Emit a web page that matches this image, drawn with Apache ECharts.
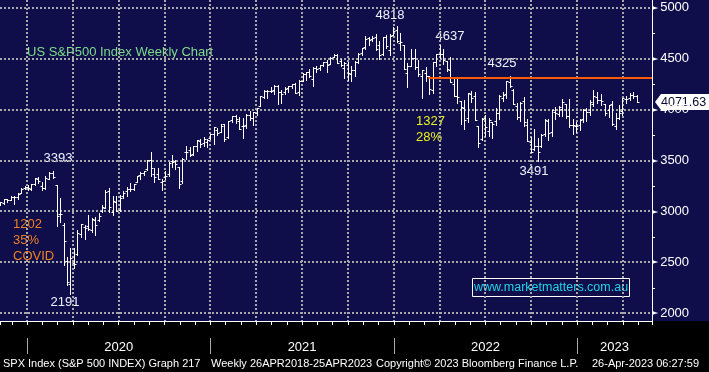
<!DOCTYPE html>
<html><head><meta charset="utf-8">
<script src="https://cdn.jsdelivr.net/npm/echarts@6/dist/echarts.min.js"></script>
<style>
html,body{margin:0;padding:0;background:#000;}
#c{width:709px;height:372px;background:linear-gradient(#100e4a 0,#100e4a 321px,#000 321px,#000 100%);}
</style></head><body><div id="c"></div>
<script>
// Weekly bars (week-ending Friday), first week ending 2019-11-08
const firstWeekEnding = '2019-11-08';
const opens = [
  3078,3081,3118,3117,3144,3141,3183,3226,3240,
  3218,3271,3321,3248,3235,3319,3380,3257,2974,2863,2509,2290,2498,2578,2782,2845,2855,2815,2915,2913,3005,3038,3199,2993,3094,3018,3155,3205,3224,3219,3289,3356,3380,3419,3509,3371,3364,3285,3334,3367,3500,3493,3441,3296,3583,3600,3566,3641,3694,3675,3684,3723,
  3764,3803,3781,3855,3732,3893,3939,3886,3842,3844,3942,3916,3969,4034,4124,4180,4185,4192,4228,4170,4170,4216,4229,4248,4174,4285,4344,4372,4296,4409,4407,4437,4462,4450,4514,4535,4474,4403,4442,4348,4385,4464,4553,4610,4701,4689,4712,4629,4548,4711,4588,4733,
  4778,4655,4632,4357,4432,4505,4413,4333,4354,4328,4188,4462,4541,4547,4474,4385,4255,4130,4081,4013,3920,4151,4134,3838,3715,3920,3792,3880,3883,3965,4113,4155,4269,4195,4034,3930,4084,3849,3682,3609,3643,3638,3762,3883,3780,3977,3956,4005,4053,3939,3853,3843,
  3853,3911,3999,3978,4055,4120,4096,4059,3992,4056,3834,3917,3987,4102,4110,4139,4134
];
const highs = [
  3097,3120,3127,3154,3150,3182,3226,3248,3259,
  3268,3330,3338,3286,3347,3385,3393,3259,3136,2882,2553,2637,2641,2818,2880,2869,2965,2935,2945,2980,3068,3212,3233,3155,3155,3165,3198,3238,3280,3272,3352,3387,3399,3509,3588,3425,3428,3320,3393,3486,3550,3502,3441,3521,3646,3629,3645,3699,3712,3726,3711,3760,
  3827,3823,3860,3860,3889,3937,3950,3929,3915,3960,3983,3978,4020,4129,4191,4195,4218,4238,4238,4190,4219,4234,4249,4261,4286,4356,4372,4394,4415,4429,4440,4469,4482,4513,4546,4549,4492,4465,4466,4429,4475,4559,4608,4718,4714,4718,4744,4672,4713,4731,4741,4808,
  4818,4749,4632,4454,4595,4590,4489,4385,4416,4328,4465,4546,4637,4594,4474,4513,4309,4307,4082,4090,4160,4178,4168,3838,3913,3946,3919,3880,4012,4140,4168,4280,4325,4203,4062,4076,4119,3907,3733,3807,3718,3762,3905,3911,4000,4028,4034,4101,4053,4101,3906,3878,
  3906,4004,4016,4095,4195,4176,4156,4059,4049,4079,3964,4040,4110,4133,4164,4170,4138
];
const lows = [
  3066,3075,3090,3113,3070,3123,3183,3223,3212,
  3215,3264,3281,3214,3225,3315,3328,2855,2900,2479,2280,2191,2447,2577,2749,2727,2816,2798,2766,2906,2999,3038,2999,2966,3000,3001,3128,3152,3200,3210,3285,3323,3353,3404,3349,3293,3317,3209,3323,3344,3441,3419,3234,3280,3511,3544,3553,3594,3633,3647,3636,3707,
  3662,3749,3781,3694,3725,3874,3865,3805,3723,3819,3896,3853,3948,4034,4118,4118,4169,4156,4057,4062,4156,4168,4208,4164,4144,4279,4290,4321,4233,4371,4385,4425,4367,4450,4513,4457,4427,4306,4289,4278,4329,4459,4537,4596,4630,4672,4585,4495,4533,4600,4531,4733,
  4662,4582,4395,4223,4431,4401,4327,4115,4284,4157,4162,4424,4507,4450,4381,4267,4129,4063,3859,3811,3875,4074,3901,3637,3704,3739,3742,3722,3846,3910,4080,4112,4218,4057,3907,3886,3838,3693,3584,3604,3491,3632,3740,3698,3743,3906,3940,3938,3918,3828,3764,3784,
  3795,3877,3885,3949,4037,4061,4048,3943,3928,3846,3809,3906,3949,4068,4098,4114,4071
];
const closes = [
  3093,3120,3110,3141,3146,3169,3221,3240,3235,
  3265,3330,3295,3226,3328,3380,3338,2954,2972,2711,2305,2541,2489,2790,2875,2837,2831,2930,2864,2955,3044,3194,3041,3098,3009,3130,3185,3225,3216,3271,3351,3373,3397,3508,3427,3341,3319,3298,3348,3477,3484,3465,3270,3510,3585,3558,3638,3699,3663,3709,3703,3756,
  3825,3768,3841,3714,3887,3934,3907,3811,3842,3943,3913,3975,4020,4129,4185,4180,4181,4233,4174,4156,4204,4230,4247,4166,4281,4352,4370,4327,4412,4395,4437,4468,4442,4509,4535,4459,4433,4455,4357,4391,4471,4545,4605,4697,4683,4698,4595,4538,4712,4620,4726,4766,
  4677,4663,4398,4432,4501,4419,4349,4385,4329,4204,4463,4543,4546,4488,4393,4272,4132,4123,4024,3901,4158,4109,3901,3675,3912,3825,3899,3863,3962,4130,4145,4280,4228,4058,3924,4067,3873,3693,3586,3640,3583,3752,3901,3771,3993,3965,4026,4072,3934,3852,3845,3840,
  3895,3999,3973,4071,4136,4090,4079,3970,4046,3862,3917,3971,4109,4105,4138,4133,4071.63
];
const years = ['2020','2021','2022','2023'];
const priceTicks = [2000,2500,3000,3500,4000,4500,5000];
const quarterStarts = ['2020-01-01','2020-04-01','2020-07-01','2020-10-01','2021-01-01','2021-04-01','2021-07-01','2021-10-01',
                       '2022-01-01','2022-04-01','2022-07-01','2022-10-01','2023-01-01','2023-04-01'];
const resistanceLevel = 4310;
const resistanceStart = '2022-03-09';
const lastPrice = 4071.63;
const annotations = [
  {text:'3393', x:58, y:158, color:'#eef3ff'},
  {text:'2191', x:65, y:302, color:'#eef3ff'},
  {text:'4818', x:390, y:15, color:'#eef3ff'},
  {text:'4637', x:450, y:36, color:'#eef3ff'},
  {text:'4325', x:502, y:63, color:'#eef3ff'},
  {text:'3491', x:534, y:171, color:'#eef3ff'}
];
const footer = [
  {text:'SPX Index (S&P 500 INDEX) Graph 217', x:3},
  {text:'Weekly 26APR2018-25APR2023', x:211},
  {text:'Copyright\u00a9 2023 Bloomberg Finance L.P.', x:376},
  {text:'26-Apr-2023 06:27:59', x:592}
];

function toMonth(s){
  const [y,m,d] = s.split('-').map(Number);
  const dim = new Date(Date.UTC(y, m, 0)).getUTCDate();
  return (y-2020)*12 + (m-1) + (d-1)/dim;
}
function weekDate(i){
  const t = new Date(firstWeekEnding + 'T00:00:00Z');
  t.setUTCDate(t.getUTCDate() + 7*i);
  return t.toISOString().slice(0,10);
}
const data = opens.map((o,i)=>[toMonth(weekDate(i)), o, highs[i], lows[i], closes[i]]);

const X_MIN = -1.77, X_MAX = 40.9, Y_MIN = 1925, Y_MAX = 5075;
const FONT = 'Liberation Sans';
const GRID_COLOR = '#a8a8a8';

function renderBar(params, api){
  const x = api.value(0);
  const o = api.coord([x, api.value(1)]);
  const h = api.coord([x, api.value(2)]);
  const l = api.coord([x, api.value(3)]);
  const c = api.coord([x, api.value(4)]);
  const px = Math.round(h[0]) + 0.5;
  const oy = Math.round(o[1]) + 0.5, cy = Math.round(c[1]) + 0.5;
  const style = {stroke:'#ffffff', lineWidth:1};
  return {type:'group', children:[
    {type:'line', shape:{x1:px, y1:Math.round(h[1]), x2:px, y2:Math.round(l[1])+1}, style},
    {type:'line', shape:{x1:px-2, y1:oy, x2:px, y2:oy}, style},
    {type:'line', shape:{x1:px, y1:cy, x2:px+2, y2:cy}, style}
  ]};
}
function renderVGrid(params, api){
  const cs = params.coordSys;
  const x = Math.round(api.coord([api.value(0), 3000])[0]);
  return {type:'line', shape:{x1:x, y1:cs.y, x2:x, y2:cs.y+cs.height},
          style:{stroke:GRID_COLOR, lineWidth:2, lineDash:[2,2]}};
}
function renderHGrid(params, api){
  const cs = params.coordSys;
  const y = Math.round(api.coord([0, api.value(1)])[1]);
  return {type:'line', shape:{x1:cs.x, y1:y, x2:cs.x+cs.width, y2:y},
          style:{stroke:GRID_COLOR, lineWidth:2, lineDash:[2,2]}};
}

const chart = echarts.init(document.getElementById('c'), null, {renderer:'canvas'});
chart.setOption({
  animation:false,
  backgroundColor:'transparent',
  grid:{left:0, right:57, top:0, bottom:51},
  xAxis:{type:'value', min:X_MIN, max:X_MAX, minInterval:1, maxInterval:1, position:'bottom',
     axisLine:{show:true, onZero:false, lineStyle:{color:'#ffffff', width:1}},
     axisTick:{show:true, length:4, lineStyle:{color:'#ffffff'}},
     axisLabel:{show:false}, splitLine:{show:false}},
  yAxis:{type:'value', position:'right', min:Y_MIN, max:Y_MAX, minInterval:500, maxInterval:500,
    axisLine:{show:true, onZero:false, lineStyle:{color:'#ffffff'}},
    axisTick:{show:false},
    minorTick:{show:true, splitNumber:2, length:3, lineStyle:{color:'#ffffff'}},
    axisLabel:{margin:0, showMinLabel:false, showMaxLabel:false,
      formatter: v => '{t|\u25BA}{v|' + v + '}',
      rich:{t:{fontSize:8, color:'#ffffff', fontFamily:'DejaVu Sans'},
            v:{fontSize:13, color:'#ffffff', fontFamily:FONT, padding:[0,0,0,2]}}},
    splitLine:{show:false}},
  series:[
    {type:'custom', renderItem:renderVGrid, data:quarterStarts.map(d=>[toMonth(d), 3000]), encode:{x:0, y:1}},
    {type:'custom', renderItem:renderHGrid, data:priceTicks.map(p=>[0, p]), encode:{x:0, y:1}},
    {type:'custom', renderItem:renderBar, data, clip:true,
      encode:{x:0, y:[1,2,3,4]},
      markLine:{silent:true, symbol:'none', label:{show:false}, animation:false,
        lineStyle:{color:'#ff5a0a', width:2, type:'solid'},
        data:[[{coord:[toMonth(resistanceStart), resistanceLevel]}, {coord:[X_MAX, resistanceLevel]}]]}}
  ]
});

const g = [];
const txt = (text, x, y, color, size, align) => ({
  type:'text', x, y, silent:true,
  style:{text, fill:color, font: size + 'px "' + FONT + '"', textAlign:align||'center', textVerticalAlign:'middle'}
});

g.push(txt('US S&P500 Index Weekly Chart', 27, 52, '#7ddc8a', 13, 'left'));
annotations.forEach(a => g.push(txt(a.text, a.x, a.y, a.color, 13)));
g.push(txt('1202', 13, 224, '#f0801e', 13, 'left'));
g.push(txt('35%', 13, 240, '#f0801e', 13, 'left'));
g.push(txt('COVID', 13, 256, '#f0801e', 13, 'left'));
g.push(txt('1327', 416, 121, '#e8f01e', 13, 'left'));
g.push(txt('28%', 416, 137, '#e8f01e', 13, 'left'));

// watermark
g.push({type:'rect', silent:true, shape:{x:472.5, y:278.5, width:157, height:18}, style:{fill:'none', stroke:'#ffffff', lineWidth:1}});
g.push(txt('www.marketmatters.com.au', 551, 288, '#22d3e6', 12.5));

// years
const axisEndPx = chart.convertToPixel({xAxisIndex:0}, X_MAX);
years.forEach((yr, i) => {
  const x0 = chart.convertToPixel({xAxisIndex:0}, i*12);
  const x1 = Math.min(chart.convertToPixel({xAxisIndex:0}, (i+1)*12), axisEndPx);
  g.push({type:'line', silent:true, shape:{x1:Math.round(x0)+0.5, y1:338, x2:Math.round(x0)+0.5, y2:354}, style:{stroke:'#aaaaaa', lineWidth:1}});
  g.push(txt(yr, (x0+x1)/2, 347, '#ffffff', 13));
});
footer.forEach(f => g.push(txt(f.text, f.x, 364, '#ffffff', 11, 'left')));

// last price tag
const py = Math.round(chart.convertToPixel({yAxisIndex:0}, lastPrice));
g.push({type:'polygon', silent:true, shape:{points:[[655,py],[661,py-8],[709,py-8],[709,py+8],[661,py+8]]}, style:{fill:'#ffffff'}});
g.push(txt(lastPrice.toFixed(2), 661, py+0.5, '#0a0a30', 12.5, 'left'));

chart.setOption({graphic:{elements:g}});
</script></body></html>
